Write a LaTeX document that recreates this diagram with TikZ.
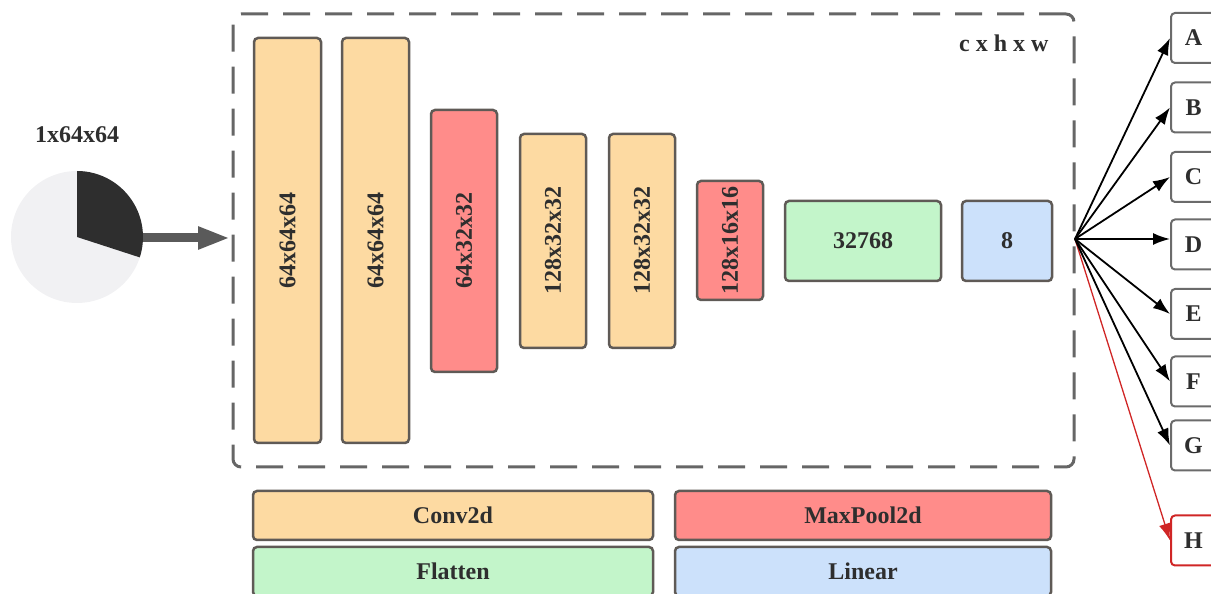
\documentclass[tikz,border=0pt]{standalone}
\usepackage{fontspec}
\setmainfont{Liberation Serif}
\usetikzlibrary{arrows.meta}
\definecolor{convc}{HTML}{FDDAA2}
\definecolor{poolc}{HTML}{FF8C8A}
\definecolor{flatc}{HTML}{C3F5CA}
\definecolor{linc}{HTML}{CCE1FB}
\definecolor{edgec}{HTML}{5F5A56}
\definecolor{txtc}{HTML}{2E2E2E}
\definecolor{dashc}{HTML}{666666}
\definecolor{piedark}{HTML}{2E2E2E}
\definecolor{pielight}{HTML}{F1F1F3}
\definecolor{arrowgray}{HTML}{5A5A5A}
\definecolor{hred}{HTML}{D02626}
\definecolor{outc}{HTML}{6B6B6B}
\tikzset{
  x=1pt,y=1pt,
  lbl/.style={font=\fontsize{24}{26}\selectfont\bfseries, text=txtc},
  layer/.style={draw=edgec, line width=2.5pt, rounded corners=4pt, inner sep=0pt, lbl},
  vbar/.style={layer, rotate=90},
  outbox/.style={draw=outc, line width=2pt, rounded corners=4pt, inner sep=0pt, fill=white, lbl, minimum width=45pt, minimum height=50pt},
  outarrow/.style={line width=1.8pt, -{Latex[length=17pt,width=12pt]}},
}
\begin{document}
\begin{tikzpicture}
\useasboundingbox (0,0) rectangle (1211,594);
% dashed frame
\node[draw=dashc, line width=3pt, dash pattern=on 27pt off 15pt, rounded corners=8pt, minimum width=841pt, minimum height=453pt, inner sep=0pt] (frame) at (653.5,353.5) {};
\node[lbl, anchor=east] (chw) at (1052,551) {c x h x w};
% input pie
\node[circle, fill=pielight, minimum size=132pt, inner sep=0pt] (pie) at (77,357) {};
\fill[piedark] (pie.center) -- ++(90:66) arc[start angle=90, end angle=-18, radius=66] -- cycle;
\node[lbl] (inlbl) at (77,459) {1x64x64};
\coordinate (inarrow) at (230,356);
\draw[arrowgray, line width=9pt, -{Triangle[length=32pt,width=21pt]}] (pie.east |- inarrow) -- (inarrow);
% layers
\node[vbar, fill=convc, minimum width=405pt, minimum height=67pt] (b1) at (287.5,353.5) {64x64x64};
\node[vbar, fill=convc, minimum width=405pt, minimum height=67pt] (b2) at (375.5,353.5) {64x64x64};
\node[vbar, fill=poolc, minimum width=262pt, minimum height=66pt] (b3) at (464,353) {64x32x32};
\node[vbar, fill=convc, minimum width=214pt, minimum height=66pt] (b4) at (553,353) {128x32x32};
\node[vbar, fill=convc, minimum width=214pt, minimum height=66pt] (b5) at (642,353) {128x32x32};
\node[vbar, fill=poolc, minimum width=119pt, minimum height=66pt] (b6) at (730,353.5) {128x16x16};
\node[layer, fill=flatc, minimum width=156pt, minimum height=80pt] (b7) at (863,353) {32768};
\node[layer, fill=linc, minimum width=90pt, minimum height=80pt] (b8) at (1007,353) {8};
% legend
\node[layer, fill=convc, minimum width=400pt, minimum height=49pt] (lconv) at (453,78.5) {Conv2d};
\node[layer, fill=poolc, minimum width=376pt, minimum height=49pt] (lpool) at (863,78.5) {MaxPool2d};
\node[layer, fill=flatc, minimum width=400pt, minimum height=49pt] (lflat) at (453,22.5) {Flatten};
\node[layer, fill=linc, minimum width=376pt, minimum height=49pt] (llin) at (863,22.5) {Linear};
% outputs
\node[outbox] (A) at (1193.5,556) {A};
\node[outbox] (B) at (1193.5,486.5) {B};
\node[outbox] (C) at (1193.5,417) {C};
\node[outbox] (D) at (1193.5,349.5) {D};
\node[outbox] (E) at (1193.5,280) {E};
\node[outbox] (F) at (1193.5,212.5) {F};
\node[outbox] (G) at (1193.5,148.5) {G};
\node[outbox, draw=hred] (H) at (1193.5,53.5) {H};
\coordinate (src) at (1075,355);
\draw[outarrow, hred, line width=1.3pt] (src) -- (H.west);
\foreach \n in {A,B,C,E,F,G}{\draw[outarrow] (src) -- (\n.west);}
\draw[outarrow] (src) -- (src -| D.west);
\end{tikzpicture}
\end{document}
